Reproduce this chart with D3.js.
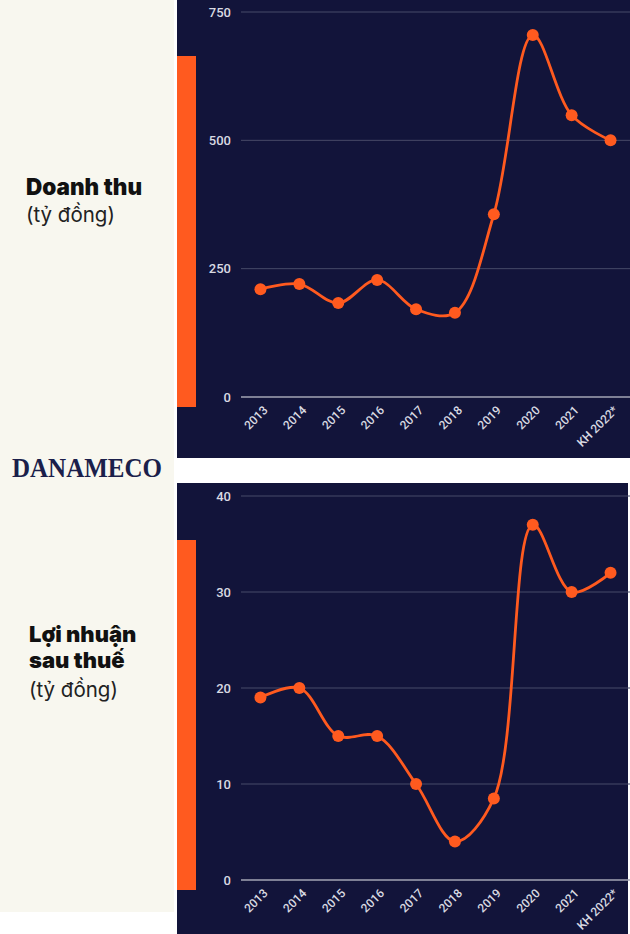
<!DOCTYPE html>
<html><head><meta charset="utf-8">
<script src="https://cdn.jsdelivr.net/npm/d3@7"></script>
<style>html,body{margin:0;padding:0;background:#fff;}svg{display:block;}</style>
</head><body>
<svg id="c" width="630" height="934"></svg>
<script>
const categories = ["2013","2014","2015","2016","2017","2018","2019","2020","2021","KH 2022*"];
const revenue = [210, 220, 183, 228, 171, 164, 356, 705, 549, 500];
const profit = [19, 20, 15, 15, 10, 4, 8.5, 37, 30, 32];
const revenueTicks = [0, 250, 500, 750];
const profitTicks = [0, 10, 20, 30, 40];

const svg = d3.select("#c");
const NAVY = "#12143a", ORANGE = "#ff5a1f", CREAM = "#f8f7ef";

svg.append("rect").attr("x",0).attr("y",0).attr("width",174).attr("height",912).attr("fill",CREAM);

function panel(cfg){
  const g = svg.append("g");
  g.append("rect").attr("x",177).attr("y",cfg.top).attr("width",cfg.w).attr("height",cfg.h).attr("fill",NAVY);
  g.append("rect").attr("x",177).attr("y",cfg.barY0).attr("width",19).attr("height",cfg.barY1-cfg.barY0).attr("fill",ORANGE);
  const x = d3.scaleBand().domain(categories).range([241,630]);
  const y = d3.scaleLinear().domain([0, cfg.max]).range([cfg.y0, cfg.yMax]);
  g.selectAll("line.grid").data(cfg.ticks).enter().append("line")
    .attr("x1",241).attr("x2",630).attr("y1",d=>y(d)).attr("y2",d=>y(d))
    .attr("stroke",d=>d===0?"#a3a4b4":"#474a68").attr("stroke-width",d=>d===0?1.3:1);
  g.selectAll("text.yt").data(cfg.ticks).enter().append("text")
    .attr("x",231).attr("y",d=>y(d)+4.5).attr("text-anchor","end")
    .attr("fill","#d9dae2").attr("font-family","Roboto").attr("font-weight",500).attr("font-size",13).text(d=>d);
  g.selectAll("text.xt").data(categories).enter().append("text")
    .attr("text-anchor","end").attr("fill","#d9dae2").attr("font-family","Roboto").attr("font-weight",500).attr("font-size",12)
    .attr("transform",d=>`translate(${x(d)+x.bandwidth()/2+8},${cfg.y0+14}) rotate(-45)`).text(d=>d);
  const line = d3.line().x((d,i)=>x(categories[i])+x.bandwidth()/2).y(d=>y(d)).curve(d3.curveCatmullRom.alpha(0.5));
  g.append("path").attr("d",line(cfg.data)).attr("fill","none").attr("stroke",ORANGE).attr("stroke-width",2.8);
  g.selectAll("circle").data(cfg.data).enter().append("circle")
    .attr("cx",(d,i)=>x(categories[i])+x.bandwidth()/2).attr("cy",d=>y(d)).attr("r",6).attr("fill",ORANGE);
}
panel({top:0,h:458,w:453,barY0:56,barY1:407,y0:397,yMax:12,max:750,ticks:revenueTicks,data:revenue});
panel({top:483,h:451,w:451,barY0:540,barY1:890,y0:880,yMax:496,max:40,ticks:profitTicks,data:profit});

const lab = svg.append("g").attr("fill","#111");
lab.append("text").attr("x",26).attr("y",195).attr("font-family","Inter").attr("font-weight",900).attr("font-size",22.5).text("Doanh thu");
lab.append("text").attr("x",26).attr("y",222).attr("font-family","Inter").attr("font-size",20.5).attr("fill","#222").text("(tỷ đồng)");
lab.append("text").attr("x",29).attr("y",642).attr("font-family","Inter").attr("font-weight",900).attr("font-size",22).text("Lợi nhuận");
lab.append("text").attr("x",29).attr("y",668).attr("font-family","Inter").attr("font-weight",900).attr("font-size",22).text("sau thuế");
lab.append("text").attr("x",29).attr("y",697).attr("font-family","Inter").attr("font-size",20.5).attr("fill","#222").text("(tỷ đồng)");
svg.append("text").attr("x",12).attr("y",477).attr("font-family","Liberation Serif").attr("font-weight",700)
  .attr("font-size",27).attr("fill","#1b1f4b").attr("textLength",150).attr("lengthAdjust","spacingAndGlyphs").text("DANAMECO");
</script>
</body></html>
